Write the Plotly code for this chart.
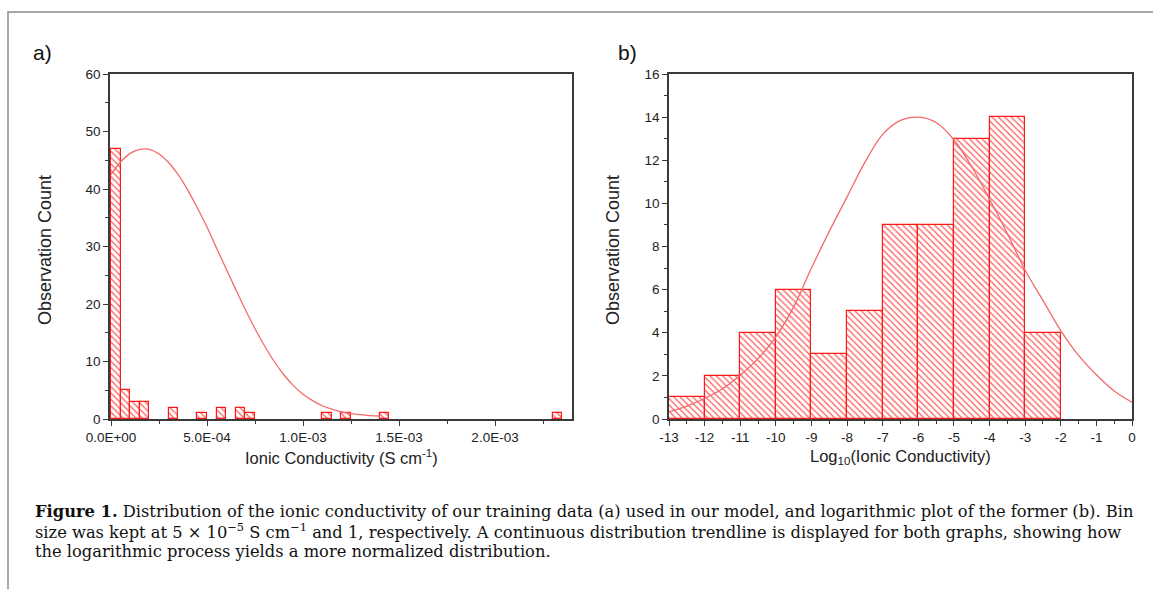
import plotly.graph_objects as go

# ---------------- data ----------------
# Panel a: histogram of ionic conductivity (bin size 5e-5 S/cm)
a_bin_left = [0.0, 5e-5, 1.0e-4, 1.5e-4, 3.0e-4, 4.5e-4, 5.5e-4, 6.5e-4, 7.0e-4, 1.1e-3, 1.2e-3, 1.4e-3, 2.3e-3]
a_counts = [47, 5, 3, 3, 2, 1, 2, 2, 1, 1, 1, 1, 1]
a_bin_size = 5e-5
# trendline
a_curve_x = [0.0, 0.5e-4, 1.0e-4, 1.5e-4, 2.0e-4, 2.5e-4, 3.0e-4, 3.5e-4, 4.0e-4, 4.5e-4,
             5.0e-4, 5.5e-4, 6.0e-4, 6.5e-4, 7.0e-4, 7.5e-4, 8.0e-4, 8.5e-4, 9.0e-4, 9.5e-4,
             1.0e-3, 1.05e-3, 1.1e-3, 1.15e-3, 1.2e-3, 1.25e-3, 1.3e-3, 1.35e-3, 1.4e-3]
a_curve_y = [42.5, 44.7, 46.2, 46.9, 46.9, 46.1, 44.6, 42.5, 39.8, 36.7,
             33.4, 29.7, 26.1, 22.5, 19.0, 15.7, 12.7, 10.0, 7.7, 5.8,
             4.3, 3.2, 2.3, 1.7, 1.25, 0.95, 0.75, 0.6, 0.5]
a_xtick_vals = [0.0, 5e-4, 1.0e-3, 1.5e-3, 2.0e-3]
a_xtick_text = ["0.0E+00", "5.0E-04", "1.0E-03", "1.5E-03", "2.0E-03"]

# Panel b: histogram of log10 conductivity (bin size 1)
b_bin_left = [-13, -12, -11, -10, -9, -8, -7, -6, -5, -4, -3]
b_counts = [1, 2, 4, 6, 3, 5, 9, 9, 13, 14, 4]
b_bin_size = 1
b_curve_x = [-13, -12.5, -12, -11.5, -11, -10.5, -10, -9.5, -9, -8.5, -8, -7.5, -7, -6.5,
             -6, -5.5, -5, -4.5, -4, -3.5, -3, -2.5, -2, -1.5, -1, -0.5, 0]
b_curve_y = [0.33, 0.6, 0.95, 1.4, 2.03, 2.8, 3.81, 5.2, 7.0, 8.7, 10.3, 11.9, 13.2, 13.85,
             14.0, 13.75, 12.95, 11.7, 10.2, 8.6, 6.9, 5.5, 4.1, 2.95, 2.05, 1.3, 0.78]
b_xtick_vals = list(range(-13, 1))
b_xtick_text = [str(v) for v in b_xtick_vals]

caption_lines = [
    "<b>Figure 1.</b> Distribution of the ionic conductivity of our training data (a) used in our model, "
    "and logarithmic plot of the former (b). Bin",
    "size was kept at 5 \u00d7 10<sup>\u22125</sup> S cm<sup>\u22121</sup> and 1, respectively. "
    "A continuous distribution trendline is displayed for both graphs, showing how",
    "the logarithmic process yields a more normalized distribution.",
]

# ---------------- styling ----------------
W, H = 1153, 589
RED = "#ff1a1a"
HATCH = "#ff5a5a"
CURVE = "#f26a6a"
AXC = "#3a3a3a"
SANS = "Liberation Sans, Arial, sans-serif"
TICKFONT = dict(family=SANS, size=13.5, color="#222222")


def px_x(p):
    return p / W


def px_y(p):
    return 1 - p / H


fig = go.Figure()

bar_style = dict(
    marker=dict(
        color="white",
        line=dict(color=RED, width=1.2),
        pattern=dict(shape="\\", fgcolor=HATCH, bgcolor="white", size=4.5, solidity=0.28),
    ),
    offset=0,
    showlegend=False,
    hoverinfo="skip",
)

fig.add_trace(go.Bar(x=a_bin_left, y=a_counts, width=[a_bin_size] * len(a_bin_left),
                     xaxis="x", yaxis="y", **bar_style))
fig.add_trace(go.Scatter(x=a_curve_x, y=a_curve_y, mode="lines",
                         line=dict(color=CURVE, width=1.3, shape="spline", smoothing=1.0),
                         xaxis="x", yaxis="y", showlegend=False, hoverinfo="skip"))

fig.add_trace(go.Bar(x=b_bin_left, y=b_counts, width=[b_bin_size] * len(b_bin_left),
                     xaxis="x2", yaxis="y2", **bar_style))
fig.add_trace(go.Scatter(x=b_curve_x, y=b_curve_y, mode="lines",
                         line=dict(color=CURVE, width=1.3, shape="spline", smoothing=1.0),
                         xaxis="x2", yaxis="y2", showlegend=False, hoverinfo="skip"))

axis_common = dict(
    showline=True, linecolor=AXC, linewidth=1.5, mirror=True,
    ticks="outside", ticklen=5, tickwidth=1.3, tickcolor=AXC,
    showgrid=False, zeroline=False, tickfont=TICKFONT, automargin=False,
)
minor_common = dict(ticks="outside", ticklen=3, tickwidth=1.1, tickcolor=AXC, showgrid=False)

ydom = [px_y(419), px_y(74)]

fig.update_layout(
    template="none",
    width=W, height=H,
    margin=dict(l=0, r=0, t=0, b=0, pad=0),
    paper_bgcolor="white", plot_bgcolor="white",
    bargap=0,
    xaxis=dict(domain=[px_x(110), px_x(572)], range=[-5.2e-6, 2.401e-3],
               tickmode="array", tickvals=a_xtick_vals, ticktext=a_xtick_text,
               minor=dict(tickmode="linear", tick0=0, dtick=2.5e-4, **minor_common),
               anchor="y", **axis_common),
    yaxis=dict(domain=ydom, range=[0, 60], tickmode="linear", tick0=0, dtick=10,
               minor=dict(tickmode="linear", tick0=0, dtick=5, **minor_common),
               anchor="x", **axis_common),
    xaxis2=dict(domain=[px_x(669), px_x(1132)], range=[-13, 0],
                tickmode="array", tickvals=b_xtick_vals, ticktext=b_xtick_text,
                minor=dict(tickmode="linear", tick0=0, dtick=0.5, **minor_common),
                anchor="y2", **axis_common),
    yaxis2=dict(domain=ydom, range=[0, 16], tickmode="linear", tick0=0, dtick=2,
                minor=dict(tickmode="linear", tick0=0, dtick=1, **minor_common),
                anchor="x2", **axis_common),
)

XTITLEFONT = dict(family=SANS, size=16.5, color="#222222")
YTITLEFONT = dict(family=SANS, size=18, color="#222222")
ann = []
ann.append(dict(text="Ionic Conductivity (S cm<sup>-1</sup>)", x=px_x(341), y=px_y(457),
                xanchor="center", yanchor="middle", font=XTITLEFONT))
ann.append(dict(text="Log<sub>10</sub>(Ionic Conductivity)", x=px_x(900), y=px_y(457),
                xanchor="center", yanchor="middle", font=XTITLEFONT))
ann.append(dict(text="Observation Count", x=px_x(45), y=px_y(250), textangle=-90,
                xanchor="center", yanchor="middle", font=YTITLEFONT))
ann.append(dict(text="Observation Count", x=px_x(613), y=px_y(250), textangle=-90,
                xanchor="center", yanchor="middle", font=YTITLEFONT))
LABFONT = dict(family=SANS, size=21, color="#111111")
ann.append(dict(text="a)", x=px_x(31), y=px_y(53), xanchor="left", yanchor="middle", font=LABFONT))
ann.append(dict(text="b)", x=px_x(616), y=px_y(53), xanchor="left", yanchor="middle", font=LABFONT))

CAPFONT = dict(family="DejaVu Serif, Liberation Serif, serif", size=16.3, color="#111111")
for i, line in enumerate(caption_lines):
    ann.append(dict(text=line, x=px_x(33), y=px_y(511 + 20 * i), xanchor="left", yanchor="middle",
                    align="left", font=CAPFONT))

for a in ann:
    a.update(xref="paper", yref="paper", showarrow=False)
fig.update_layout(annotations=ann)

# outer figure frame (left and top edges visible)
fig.add_shape(type="rect", xref="paper", yref="paper",
              x0=px_x(8), x1=1.02, y0=-0.02, y1=px_y(12),
              line=dict(color="#8c8c8c", width=1.5), fillcolor="rgba(0,0,0,0)", layer="below")

fig.write_html("out.html")
